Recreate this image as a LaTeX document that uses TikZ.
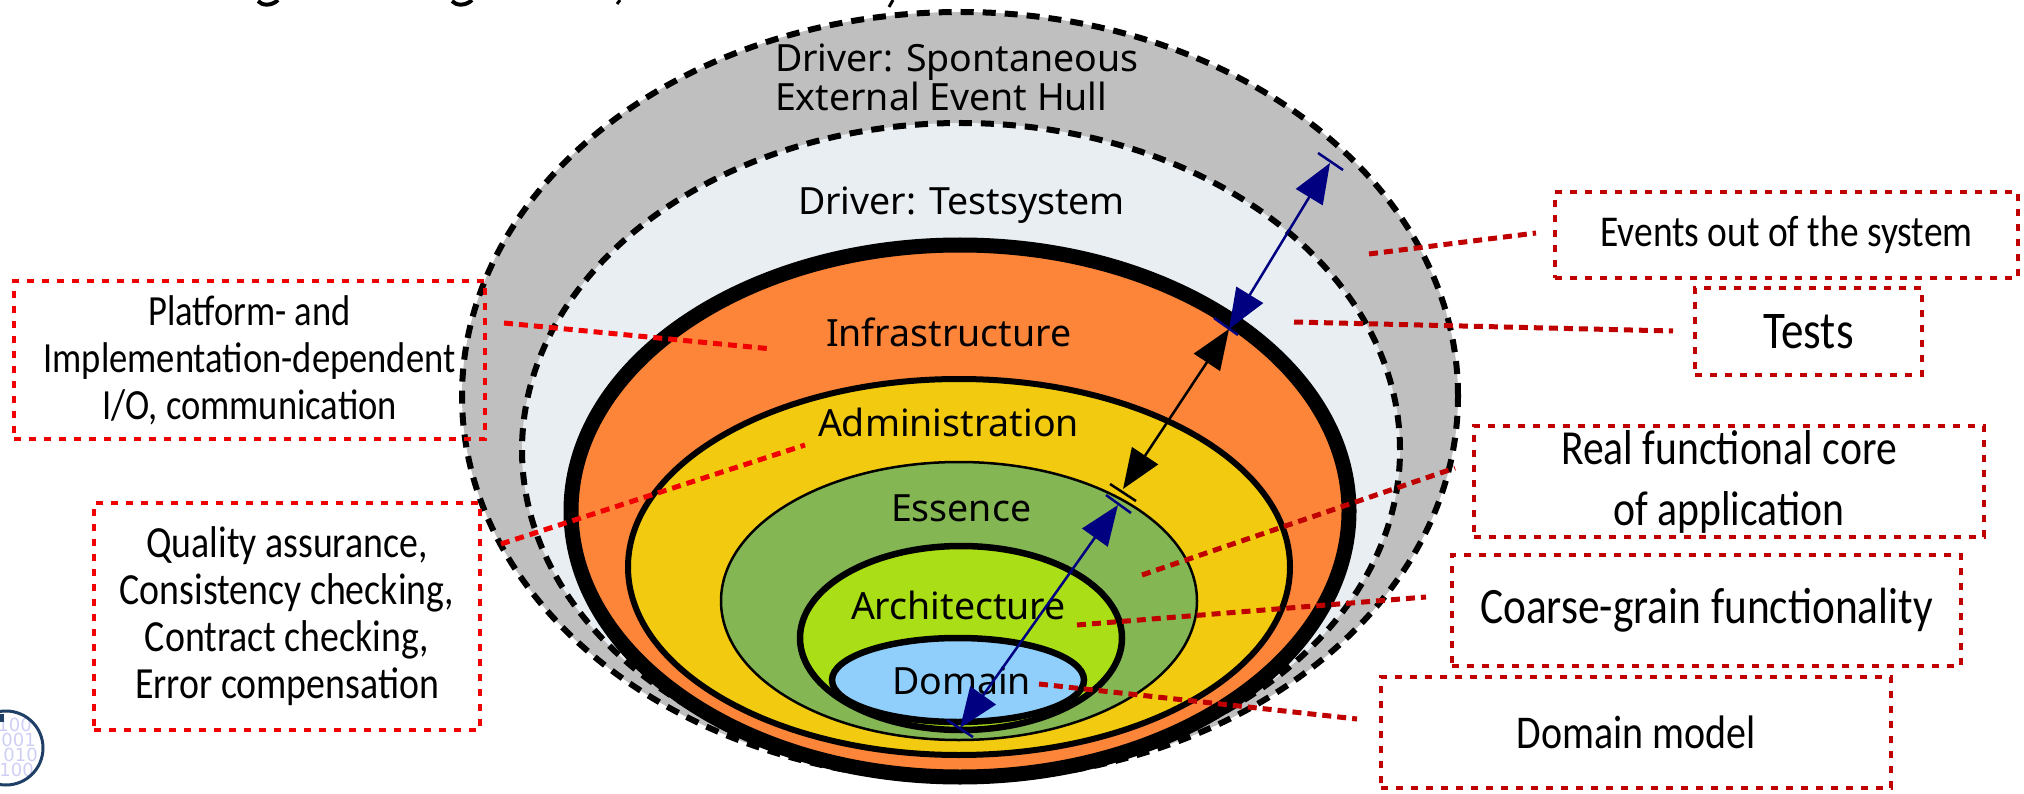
\documentclass[tikz,border=0pt]{standalone}
\usepackage{fontspec}
\usetikzlibrary{shapes.geometric,arrows.meta}
\newfontfamily\lblfont{Noto Sans}
\newfontfamily\handfont[FakeStretch=0.85]{Carlito}
\newfontfamily\logofont{DejaVu Sans}
\definecolor{hullgray}{HTML}{BFBFBF}
\definecolor{testblue}{HTML}{E9EEF3}
\definecolor{infraorange}{HTML}{FC8539}
\definecolor{adminyellow}{HTML}{F2CB10}
\definecolor{essgreen}{HTML}{84B754}
\definecolor{archlime}{HTML}{AADF17}
\definecolor{dommblue}{HTML}{90CFFB}
\definecolor{navyarrow}{HTML}{000080}
\definecolor{brightred}{HTML}{F00000}
\definecolor{darkred}{HTML}{C00000}
\definecolor{logoblue}{HTML}{1F3F66}
\definecolor{logodigit}{HTML}{CFCFF5}
\tikzset{
  x=1pt,y=-1pt,
  ring/.style={ellipse,draw=black,inner sep=0pt,outer sep=0pt},
  lbl/.style={anchor=base west,inner sep=0pt,outer sep=0pt,font=\lblfont\fontsize{37.5}{44}\selectfont,text=black},
  boxr/.style={draw,line width=4.5pt,dash pattern=on 7pt off 8pt,inner sep=0pt,outer sep=0pt,align=center,text=black},
  hand/.style={font=\handfont\fontsize{#1}{47}\selectfont},
  lead/.style={line width=5pt,dash pattern=on 9pt off 6pt},
  both kites/.style={{Stealth[length=40pt,width=31pt,inset=0pt]}-{Stealth[length=40pt,width=31pt,inset=0pt]}},
  tick/.style={line width=2.5pt},
}
\begin{document}
\begin{tikzpicture}
\useasboundingbox (0,0) rectangle (2024,794);
% clipped text line at the very top of the page
\draw[line width=4pt] (258,1) .. controls (262,6) and (272,6) .. (278,0);
\draw[line width=4pt] (452,1) .. controls (456,6) and (466,6) .. (472,0);
\draw[line width=3pt] (620,0) -- (617,4);
\draw[line width=3pt] (893,0) -- (889,7);
% rings
\node[ring,fill=hullgray,line width=6pt,dash pattern=on 13pt off 9pt,minimum width=996pt,minimum height=768pt] (hull) at (960,396) {};
\node[ring,fill=testblue,line width=6pt,dash pattern=on 13pt off 9pt,minimum width=878pt,minimum height=654pt] (test) at (961,450) {};
\node[ring,fill=infraorange,line width=15pt,minimum width=778pt,minimum height=532pt] (infra) at (960,511) {};
\node[ring,fill=adminyellow,line width=6pt,minimum width=662pt,minimum height=376pt] (admin) at (959,567) {};
\node[ring,fill=essgreen,line width=2.5pt,minimum width=476pt,minimum height=278pt] (ess) at (959,601) {};
\node[ring,fill=archlime,line width=6.5pt,minimum width=322pt,minimum height=184pt] (arch) at (961,638) {};
\node[ring,fill=dommblue,line width=6.5pt,minimum width=252pt,minimum height=84pt] (dom) at (958,680) {};
% ring labels
\node[lbl] (lhull1) at (775,72) {Driver: Spontaneous};
\node[lbl] (lhull2) at (775,111) {External Event Hull};
\node[lbl] (ltest) at (798,215) {Driver: Testsystem};
\node[lbl] (linfra) at (826,346) {Infrastructure};
\node[lbl] (ladmin) at (818,436) {Administration};
\node[lbl] (less) at (891,521) {Essence};
\node[lbl] (larch) at (851,619) {Architecture};
\node[lbl] (ldom) at (892,694) {Domain};
% measure arrows
\coordinate (a1) at (1330,163);
\coordinate (a2) at (1229,329);
\coordinate (a3) at (1123,489);
\coordinate (a4) at (1118,505);
\coordinate (a5) at (960,728);
\coordinate (t1a) at (1318,153); \coordinate (t1b) at (1343,170);
\coordinate (t2a) at (1214,318); \coordinate (t2b) at (1238,335);
\coordinate (t3a) at (1110,484); \coordinate (t3b) at (1136,501);
\coordinate (t4a) at (1106,495); \coordinate (t4b) at (1131,513);
\coordinate (t5a) at (947,720); \coordinate (t5b) at (973,737);
\draw[line width=2.5pt,black,both kites] (a2) -- (a3);
\draw[tick,black] (t3a) -- (t3b);
\draw[line width=2.5pt,navyarrow,both kites] (a1) -- (a2);
\draw[line width=2.5pt,navyarrow,both kites] (a4) -- (a5);
\draw[tick,navyarrow] (t1a) -- (t1b);
\draw[tick,navyarrow] (t2a) -- (t2b);
\draw[tick,navyarrow] (t4a) -- (t4b);
\draw[tick,navyarrow] (t5a) -- (t5b);
% boxes
\node[boxr,brightred,hand=43,minimum width=471pt,minimum height=158pt] (bplat) at (249.5,360) {\color{black}Platform- and\\\color{black}Implementation-dependent\\\color{black}I/O, communication};
\node[boxr,brightred,hand=44.5,minimum width=386pt,minimum height=227pt] (bqual) at (287,616.5) {\color{black}Quality assurance,\\\color{black}Consistency checking,\\\color{black}Contract checking,\\\color{black}Error compensation};
\node[boxr,darkred,hand=44,minimum width=463pt,minimum height=86pt] (bevt) at (1786.5,235) {\color{black}Events out of the system};
\node[boxr,darkred,hand=53,minimum width=227pt,minimum height=87pt] (btest) at (1808.5,331.5) {\color{black}Tests};
\node[boxr,darkred,hand=49,minimum width=510pt,minimum height=111pt] (breal) at (1729,481.5) {\color{black}Real functional core\\[14pt]\color{black}of application};
\node[boxr,darkred,hand=51,minimum width=509pt,minimum height=111pt] (bcoarse) at (1706.5,610.5) {\color{black}Coarse-grain functionality};
\node[boxr,darkred,hand=47,minimum width=510pt,minimum height=111pt] (bdom) at (1636,732.5) {\color{black}Domain model};
% leaders
\coordinate (pplat) at (772,349); \coordinate (eplat) at (504,323);
\coordinate (pqual) at (805,445); \coordinate (equal) at (501,544);
\coordinate (pevt) at (1369,254); \coordinate (eevt) at (1536,233);
\coordinate (ptest) at (1294,322); \coordinate (etest) at (1673,331);
\coordinate (preal) at (1142,575); \coordinate (ereal) at (1455,468);
\coordinate (pcoarse) at (1077,625); \coordinate (ecoarse) at (1426,597);
\coordinate (pdom) at (1039,684); \coordinate (edom) at (1357,719);
\draw[lead,brightred] (eplat) -- (pplat);
\draw[lead,brightred] (equal) -- (pqual);
\draw[lead,darkred] (pevt) -- (eevt);
\draw[lead,darkred] (ptest) -- (etest);
\draw[lead,darkred] (preal) -- (ereal);
\draw[lead,darkred] (pcoarse) -- (ecoarse);
\draw[lead,darkred] (pdom) -- (edom);
% logo
\node[anchor=base east,inner sep=0pt,text=logodigit,font=\logofont\fontsize{18}{18}\selectfont] (d1) at (32,731) {100};
\node[anchor=base east,inner sep=0pt,text=logodigit,font=\logofont\fontsize{18}{18}\selectfont] (d2) at (36,746) {001};
\node[anchor=base east,inner sep=0pt,text=logodigit,font=\logofont\fontsize{18}{18}\selectfont] (d3) at (38,761) {010};
\node[anchor=base east,inner sep=0pt,text=logodigit,font=\logofont\fontsize{18}{18}\selectfont] (d4) at (34,776) {0100};
\node[circle,draw=logoblue,line width=3pt,minimum size=74pt,inner sep=0pt] (logo) at (6,748) {};
\fill[logoblue] (0,714) rectangle (4,722);
\end{tikzpicture}
\end{document}
